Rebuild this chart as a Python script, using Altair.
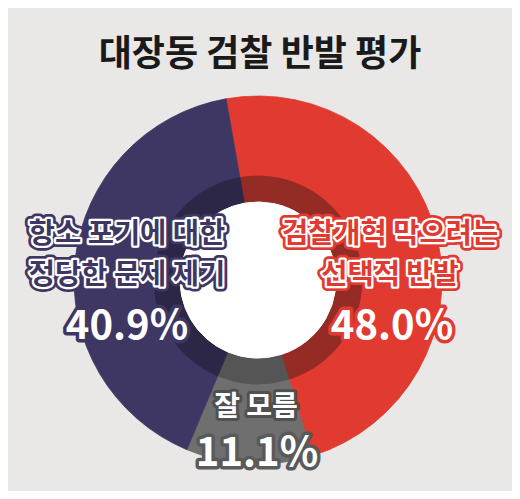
import math
import altair as alt
import pandas as pd

# ---- data ----
categories = ["검찰개혁 막으려는 선택적 반발", "잘 모름", "항소 포기에 대한 정당한 문제 제기"]
values = [48.0, 11.1, 40.9]
label_lines = ["검찰개혁 막으려는\n선택적 반발", "잘 모름", "항소 포기에 대한\n정당한 문제 제기"]
pct_labels = ["48.0%", "11.1%", "40.9%"]
title_text = "대장동 검찰 반발 평가"

main_colors = ["#e13a31", "#6f6f6f", "#3e3763"]
dark_colors = ["#952b25", "#555555", "#2c2747"]
BG = "#e9e8e6"
FONT = "Noto Sans CJK KR"

df = pd.DataFrame({
    "category": categories,
    "value": values,
    "idx": list(range(len(categories))),
    "label": label_lines,
    "pct": pct_labels,
})

W, H = 504, 483
CX, CY = 250, 272
start = math.radians(-10)
theta_scale = alt.Scale(range=[start, start + 2 * math.pi])

base = alt.Chart(df)


def ring(colors, outer, inner):
    return base.mark_arc(outerRadius=outer, innerRadius=inner, strokeWidth=0.8).encode(
        theta=alt.Theta("value:Q", stack=True, scale=theta_scale),
        order=alt.Order("idx:Q"),
        color=alt.Color("category:N", scale=alt.Scale(domain=categories, range=colors), legend=None),
        stroke=alt.Stroke("category:N", scale=alt.Scale(domain=categories, range=colors), legend=None),
        x=alt.value(CX),
        y=alt.value(CY),
    )


outer_ring = ring(main_colors, 184, 77)
inner_ring = ring(dark_colors, 104, 77)
rings = alt.layer(outer_ring, inner_ring).resolve_scale(color="independent", stroke="independent")

hole = base.mark_arc(outerRadius=78, innerRadius=0, fill="white", stroke="white", strokeWidth=1).encode(
    theta=alt.Theta("value:Q", stack=True, scale=theta_scale),
    order=alt.Order("idx:Q"),
    x=alt.value(CX),
    y=alt.value(CY),
)


def outlined(cat, field, x, y, size, fill, halo, halo_w, inner=None, inner_w=0, line_h=None):
    kw = dict(font=FONT, fontWeight="bold", fontSize=size, align="center", baseline="middle",
              lineBreak="\n", strokeJoin="round")
    if line_h:
        kw["lineHeight"] = line_h
    src = base.transform_filter(alt.datum.category == cat)
    layers = [src.mark_text(stroke=halo, strokeWidth=halo_w, fill=halo, **kw)
              .encode(text=f"{field}:N", x=alt.value(x), y=alt.value(y))]
    if inner:
        layers.append(src.mark_text(stroke=inner, strokeWidth=inner_w, fill=inner, **kw)
                      .encode(text=f"{field}:N", x=alt.value(x), y=alt.value(y)))
    layers.append(src.mark_text(fill=fill, **kw)
                  .encode(text=f"{field}:N", x=alt.value(x), y=alt.value(y)))
    return layers


texts = []
# red
texts += outlined(categories[0], "label", 382, 226, 28.5, main_colors[0], main_colors[0], 10, "white", 4.5, 41)
texts += outlined(categories[0], "pct", 384, 319, 40, "white", main_colors[0], 7)
# gray
texts += outlined(categories[1], "label", 248, 400, 28, "white", "#505050", 6)
texts += outlined(categories[1], "pct", 249, 446, 40, "white", "#5a5a5a", 7)
# navy
texts += outlined(categories[2], "label", 119, 226, 28.5, main_colors[2], main_colors[2], 10, "white", 4.5, 41)
texts += outlined(categories[2], "pct", 119, 319, 40, "white", main_colors[2], 7)

title = alt.Chart(pd.DataFrame({"t": [title_text]})).mark_text(
    font=FONT, fontWeight="bold", fontSize=36, color="#1a1a1a", align="center", baseline="middle"
).encode(text="t:N", x=alt.value(252), y=alt.value(47))

chart = alt.layer(rings, hole, *texts, title).properties(
    width=W, height=H, background=BG, padding=0
).configure_view(stroke=None)

chart.save("out.html", embed_options={"renderer": "svg", "actions": False})
